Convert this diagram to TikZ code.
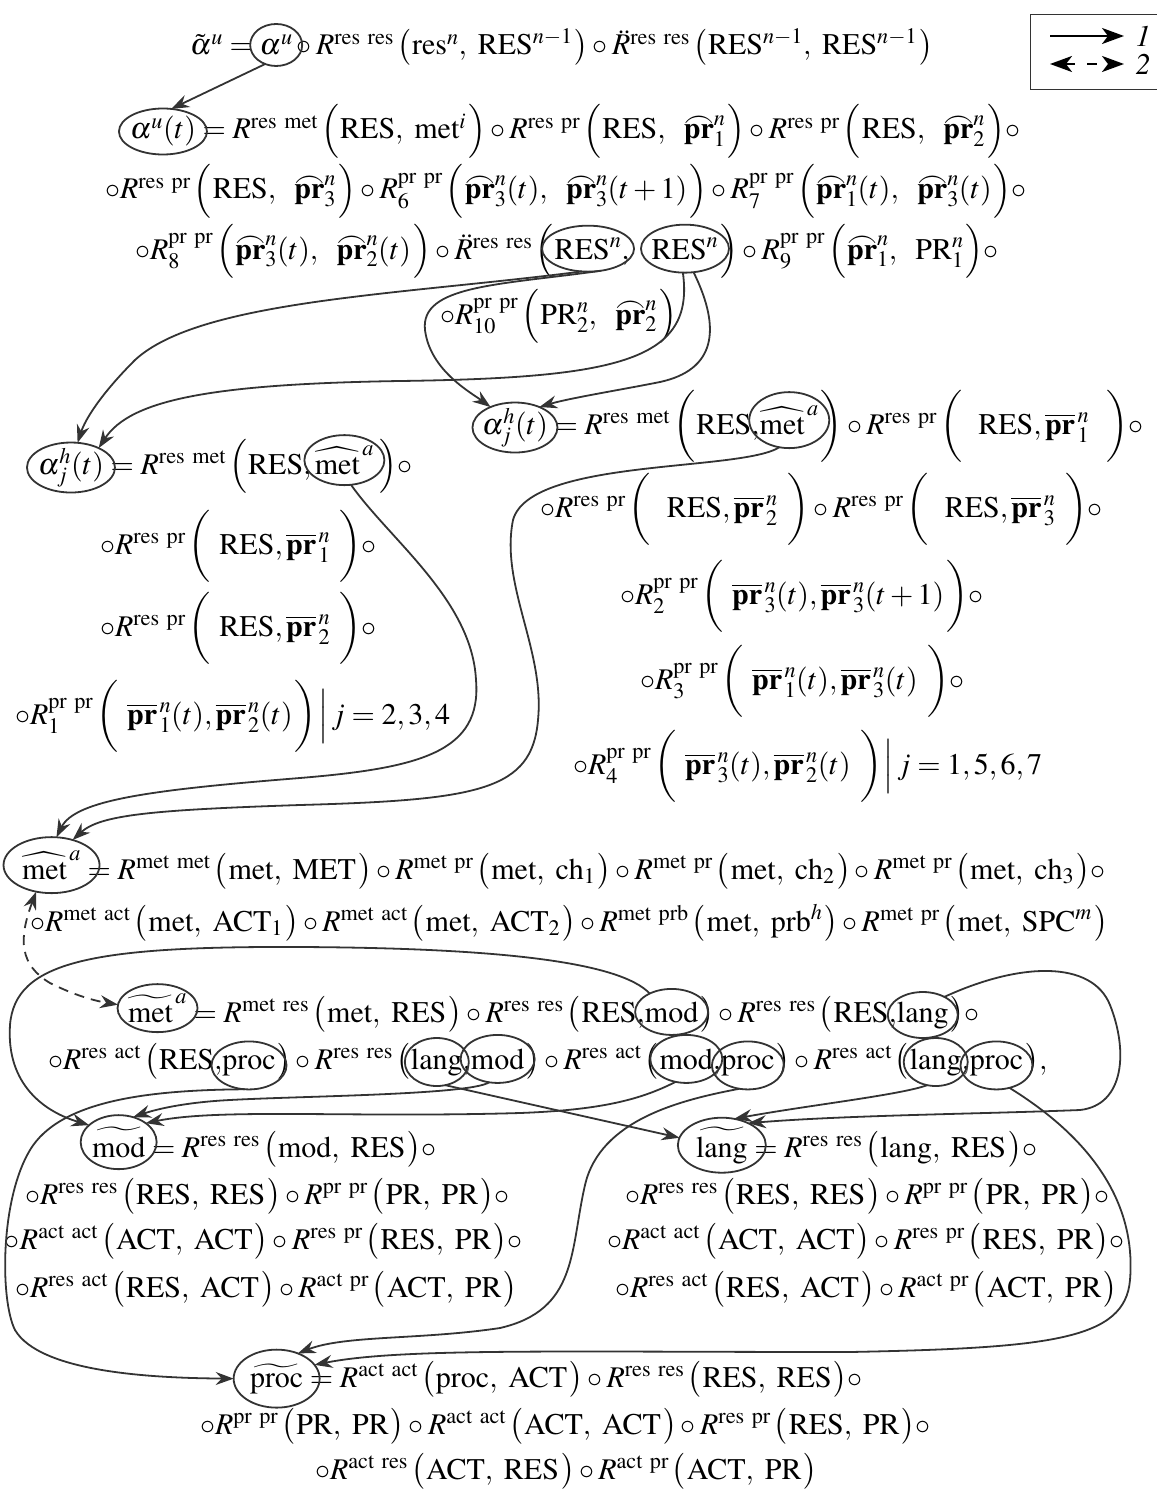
\documentclass[tikz,border=0pt]{standalone}
\usepackage{amsmath}
\usepackage{mathptmx}
\usepackage{fontspec}
\setmainfont{Liberation Serif}
\usetikzlibrary{shapes.geometric,arrows.meta}
\definecolor{ink}{HTML}{333333}
\newdimen\SA \SA=36pt
\newdimen\SB \SB=44pt
\newdimen\SC \SC=72pt
\newdimen\SD \SD=36pt
\newcommand\LP[1]{\mathopen{\kern3pt\left(\vcenter to #1{\vfil}\right.}}
\newcommand\RP[1]{\mathclose{\kern1pt\left.\vcenter to #1{\vfil}\right)}}
\newcommand\VB[1]{\mathord{\left.\vcenter to #1{\vfil}\right|}}
\newcommand\pA{\mathord{\vbox{\offinterlineskip\ialign{\hfil##\hfil\cr$\frown$\cr\noalign{\kern-3pt}$\mathbf{pr}$\cr}}}}
\newcommand\pO{\overline{\mathbf{pr}}}
\newcommand\rr[1]{\mathrm{#1}}
\tikzset{
  every node/.style={inner sep=0pt, outer sep=0pt, font=\fontsize{30}{36}\selectfont},
  tx/.style={anchor=base west},
  ell/.style={draw=ink, line width=1.8pt, ellipse, inner sep=0pt},
  conn/.style={draw=ink, line width=1.8pt, -{Stealth[length=18pt,width=13pt,inset=6pt]}},
  dconn/.style={draw=ink, line width=1.8pt, dash pattern=on 10pt off 7pt, {Stealth[length=18pt,width=13pt,inset=6pt]}-{Stealth[length=18pt,width=13pt,inset=6pt]}},
  lg/.style={draw=black, line width=2.2pt, -{Stealth[length=22pt,width=16pt,inset=6pt]}},
  lgd/.style={draw=black, line width=2.2pt, dash pattern=on 10pt off 12pt, {Stealth[length=22pt,width=16pt,inset=6pt]}-{Stealth[length=22pt,width=16pt,inset=6pt]}}
}
\begin{document}
\begin{tikzpicture}[x=1pt,y=-1pt]
\useasboundingbox (0,0) rectangle (1156,1490);
% legend
\draw[ink, line width=1pt] (1030,15) rectangle (1162,90);
\coordinate (g1s) at (1050,36); \coordinate (g1e) at (1124,36);
\coordinate (g2s) at (1050,64); \coordinate (g2e) at (1124,64);
\draw[lg] (g1s) -- (g1e);
\draw[lgd] (g2s) -- (g2e);
\node (g1) at (1143,36) {$\mathit{1}$};
\node (g2) at (1143,64) {$\mathit{2}$};
% line 1
\node[tx] (l1a) at (190,55) {$\tilde{\alpha}^u={}$};
\node[tx] (l1b) at (l1a.base east) {$\alpha^u$};
\node[tx] (l1c) at (l1b.base east) {${}\circ R^{\rr{res\ res}}\LP{\SA}\rr{res}^n,\ \rr{RES}^{n-1}\RP{\SA}\circ\ddot{R}^{\rr{res\ res}}\LP{\SA}\rr{RES}^{n-1},\ \rr{RES}^{n-1}\RP{\SA}$};
\node[ell, minimum width=52pt, minimum height=42pt] (Eau) at (l1b.center) {};
% line 2
\node[tx] (l2a) at (130,139) {$\alpha^u(t)$};
\node[tx] (l2b) at (l2a.base east) {${}={}R^{\rr{res\ met}}\LP{\SB}\rr{RES},\ \rr{met}^i\RP{\SB}\circ R^{\rr{res\ pr}}\LP{\SB}\rr{RES},\ \ \pA^n_1\RP{\SB}\circ R^{\rr{res\ pr}}\LP{\SB}\rr{RES},\ \ \pA^n_2\RP{\SB}\circ$};
\node[ell, minimum width=88pt, minimum height=46pt] (Ea2) at (l2a.center) {};
% line 3
\node[tx] (l3) at (105,199) {$\circ R^{\rr{res\ pr}}\LP{\SB}\rr{RES},\ \ \pA^n_3\RP{\SB}\circ R^{\rr{pr\ pr}}_6\LP{\SB}\pA^n_3(t),\ \ \pA^n_3(t+1)\RP{\SB}\circ R^{\rr{pr\ pr}}_7\LP{\SB}\pA^n_1(t),\ \ \pA^n_3(t)\RP{\SB}\circ$};
% line 4
\node[tx] (l4a) at (135,259) {$\circ R^{\rr{pr\ pr}}_8\LP{\SB}\pA^n_3(t),\ \ \pA^n_2(t)\RP{\SB}\circ\ddot{R}^{\rr{res\ res}}\LP{\SB}$};
\node[tx] (l4b) at (l4a.base east) {$\rr{RES}^n$};
\node[tx] (l4c) at (l4b.base east) {$,\hspace{22pt}$};
\node[tx] (l4d) at (l4c.base east) {$\rr{RES}^n$};
\node[tx] (l4e) at (l4d.base east) {$\RP{\SB}\circ R^{\rr{pr\ pr}}_9\LP{\SB}\pA^n_1,\ \ \rr{PR}^n_1\RP{\SB}\circ$};
\node[ell, minimum width=92pt, minimum height=46pt] (E1) at (l4b.center) {};
\node[ell, minimum width=88pt, minimum height=48pt] (E2) at (l4d.center) {};
% line 5
\node[tx] (l5) at (440,324) {$\circ R^{\rr{pr\ pr}}_{10}\LP{\SB}\rr{PR}^n_2,\ \ \pA^n_2\RP{\SB}$};
% right alpha block
\node[tx] (r1a) at (482,434) {$\alpha^h_j(t)$};
\node[tx] (r1b) at (r1a.base east) {${}={}R^{\rr{res\ met}}\LP{\SC}\rr{RES},$};
\node[tx] (r1c) at (r1b.base east) {$\widehat{\rr{met}}^{\,a}$};
\node[tx] (r1d) at (r1c.base east) {$\RP{\SC}\circ R^{\rr{res\ pr}}\LP{\SC}\ \ \rr{RES},\pO^{\,n}_{\,1}\ \ \RP{\SC}\circ$};
\node[ell, minimum width=85pt, minimum height=50pt] (Era) at (r1a.center) {};
\node[ell, minimum width=80pt, minimum height=56pt] (Emr) at (r1c.center) {};
\node[tx] (r2) at (540,517) {$\circ R^{\rr{res\ pr}}\LP{\SC}\ \ \rr{RES},\pO^{\,n}_{\,2}\ \RP{\SC}\circ R^{\rr{res\ pr}}\LP{\SC}\ \ \rr{RES},\pO^{\,n}_{\,3}\ \RP{\SC}\circ$};
\node[tx] (r3) at (620,604) {$\circ R^{\rr{pr\ pr}}_2\LP{\SC}\ \pO^{\,n}_{\,3}(t),\pO^{\,n}_{\,3}(t+1)\RP{\SC}\circ$};
\node[tx] (r4) at (640,689) {$\circ R^{\rr{pr\ pr}}_3\LP{\SC}\ \pO^{\,n}_{\,1}(t),\pO^{\,n}_{\,3}(t)\ \RP{\SC}\circ$};
\node[tx] (r5) at (573,774) {$\circ R^{\rr{pr\ pr}}_4\LP{\SC}\ \pO^{\,n}_{\,3}(t),\pO^{\,n}_{\,2}(t)\ \RP{\SC}\VB{54pt}\,j=1,5,6,7$};
% left alpha block
\node[tx] (q1a) at (38,474) {$\alpha^h_j(t)$};
\node[tx] (q1b) at (q1a.base east) {${}={}R^{\rr{res\ met}}\LP{\SB}\rr{RES},\,$};
\node[tx] (q1c) at (q1b.base east) {$\widehat{\rr{met}}^{\,a}$};
\node[tx] (q1d) at (q1c.base east) {$\,\RP{\SB}\circ$};
\node[ell, minimum width=88pt, minimum height=50pt] (Ela) at (q1a.center) {};
\node[ell, minimum width=80pt, minimum height=50pt] (Eml) at (q1c.center) {};
\node[tx] (q2) at (100,554) {$\circ R^{\rr{res\ pr}}\LP{\SC}\ \rr{RES},\pO^{\,n}_{\,1}\ \RP{\SC}\circ$};
\node[tx] (q3) at (100,636) {$\circ R^{\rr{res\ pr}}\LP{\SC}\ \rr{RES},\pO^{\,n}_{\,2}\ \RP{\SC}\circ$};
\node[tx] (q4) at (15,724) {$\circ R^{\rr{pr\ pr}}_1\LP{\SC}\ \pO^{\,n}_{\,1}(t),\pO^{\,n}_{\,2}(t)\RP{\SC}\VB{54pt}\,j=2,3,4$};
% met hat block
\node[tx] (m1a) at (22,879) {$\widehat{\rr{met}}^{\,a}$};
\node[tx] (m1b) at (m1a.base east) {${}={}R^{\rr{met\ met}}\LP{\SD}\rr{met},\ \rr{MET}\RP{\SD}\circ R^{\rr{met\ pr}}\LP{\SD}\rr{met},\ \rr{ch}_1\RP{\SD}\circ R^{\rr{met\ pr}}\LP{\SD}\rr{met},\ \rr{ch}_2\RP{\SD}\circ R^{\rr{met\ pr}}\LP{\SD}\rr{met},\ \rr{ch}_3\RP{\SD}\circ$};
\node[ell, minimum width=96pt, minimum height=56pt] (Eha) at (m1a.center) {};
\node[tx] (m2) at (30,931) {$\circ R^{\rr{met\ act}}\LP{\SD}\rr{met},\ \rr{ACT}_1\RP{\SD}\circ R^{\rr{met\ act}}\LP{\SD}\rr{met},\ \rr{ACT}_2\RP{\SD}\circ R^{\rr{met\ prb}}\LP{\SD}\rr{met},\ \rr{prb}^h\RP{\SD}\circ R^{\rr{met\ pr}}\LP{\SD}\rr{met},\ \rr{SPC}^m\RP{\SD}$};
% met tilde block
\node[tx] (n1a) at (128,1022) {$\widetilde{\rr{met}}^{\,a}$};
\node[tx] (n1b) at (n1a.base east) {${}={}R^{\rr{met\ res}}\LP{\SD}\rr{met},\ \rr{RES}\RP{\SD}\circ R^{\rr{res\ res}}\LP{\SD}\rr{RES},$};
\node[tx] (n1c) at (n1b.base east) {$\rr{mod}$};
\node[tx] (n1d) at (n1c.base east) {$\RP{\SD}\circ R^{\rr{res\ res}}\LP{\SD}\rr{RES},$};
\node[tx] (n1e) at (n1d.base east) {$\rr{lang}$};
\node[tx] (n1f) at (n1e.base east) {$\RP{\SD}\circ$};
\node[ell, minimum width=80pt, minimum height=48pt] (Emt) at (n1a.center) {};
\node[ell, minimum width=73pt, minimum height=46pt] (Em1) at (n1c.center) {};
\node[ell, minimum width=70pt, minimum height=46pt] (El1) at (n1e.center) {};
\node[tx] (o1) at (48,1069) {$\circ R^{\rr{res\ act}}\LP{\SD}\rr{RES},$};
\node[tx] (o2) at (o1.base east) {$\rr{proc}$};
\node[tx] (o3) at (o2.base east) {$\RP{\SD}\circ R^{\rr{res\ res}}\LP{\SD}$};
\node[tx] (o4) at (o3.base east) {$\rr{lang}$};
\node[tx] (o5) at (o4.base east) {$,$};
\node[tx] (o6) at (o5.base east) {$\rr{mod}$};
\node[tx] (o7) at (o6.base east) {$\RP{\SD}\circ R^{\rr{res\ act}}\LP{\SD}$};
\node[tx] (o8) at (o7.base east) {$\rr{mod}$};
\node[tx] (o9) at (o8.base east) {$,$};
\node[tx] (o10) at (o9.base east) {$\rr{proc}$};
\node[tx] (o11) at (o10.base east) {$\RP{\SD}\circ R^{\rr{res\ act}}\LP{\SD}$};
\node[tx] (o12) at (o11.base east) {$\rr{lang}$};
\node[tx] (o13) at (o12.base east) {$,$};
\node[tx] (o14) at (o13.base east) {$\rr{proc}$};
\node[tx] (o15) at (o14.base east) {$\RP{\SD},$};
\node[ell, minimum width=75pt, minimum height=48pt] (Ep1) at (o2.center) {};
\node[ell, minimum width=64pt, minimum height=48pt] (El2) at (o4.center) {};
\node[ell, minimum width=74pt, minimum height=48pt] (Em2) at (o6.center) {};
\node[ell, minimum width=72pt, minimum height=48pt] (Em3) at (o8.center) {};
\node[ell, minimum width=72pt, minimum height=48pt] (Ep2) at (o10.center) {};
\node[ell, minimum width=64pt, minimum height=48pt] (El3) at (o12.center) {};
\node[ell, minimum width=72pt, minimum height=48pt] (Ep3) at (o14.center) {};
% mod block
\node[tx] (p1a) at (92,1157) {$\widetilde{\rr{mod}}$};
\node[tx] (p1b) at (p1a.base east) {${}={}R^{\rr{res\ res}}\LP{\SD}\rr{mod},\ \rr{RES}\RP{\SD}\circ$};
\node[ell, minimum width=76pt, minimum height=54pt] (Emod) at (p1a.center) {};
\node[tx] (p2) at (25,1204) {$\circ R^{\rr{res\ res}}\LP{\SD}\rr{RES},\ \rr{RES}\RP{\SD}\circ R^{\rr{pr\ pr}}\LP{\SD}\rr{PR},\ \rr{PR}\RP{\SD}\circ$};
\node[tx] (p3) at (5,1249) {$\circ R^{\rr{act\ act}}\LP{\SD}\rr{ACT},\ \rr{ACT}\RP{\SD}\circ R^{\rr{res\ pr}}\LP{\SD}\rr{RES},\ \rr{PR}\RP{\SD}\circ$};
\node[tx] (p4) at (15,1297) {$\circ R^{\rr{res\ act}}\LP{\SD}\rr{RES},\ \rr{ACT}\RP{\SD}\circ R^{\rr{act\ pr}}\LP{\SD}\rr{ACT},\ \rr{PR}\RP{\SD}$};
% lang block
\node[tx] (s1a) at (696,1157) {$\widetilde{\rr{lang}}$};
\node[tx] (s1b) at (s1a.base east) {${}={}R^{\rr{res\ res}}\LP{\SD}\rr{lang},\ \rr{RES}\RP{\SD}\circ$};
\node[ell, minimum width=88pt, minimum height=55pt] (Sl) at (s1a.center) {};
\node[tx] (s2) at (625,1204) {$\circ R^{\rr{res\ res}}\LP{\SD}\rr{RES},\ \rr{RES}\RP{\SD}\circ R^{\rr{pr\ pr}}\LP{\SD}\rr{PR},\ \rr{PR}\RP{\SD}\circ$};
\node[tx] (s3) at (607,1249) {$\circ R^{\rr{act\ act}}\LP{\SD}\rr{ACT},\ \rr{ACT}\RP{\SD}\circ R^{\rr{res\ pr}}\LP{\SD}\rr{RES},\ \rr{PR}\RP{\SD}\circ$};
\node[tx] (s4) at (615,1297) {$\circ R^{\rr{res\ act}}\LP{\SD}\rr{RES},\ \rr{ACT}\RP{\SD}\circ R^{\rr{act\ pr}}\LP{\SD}\rr{ACT},\ \rr{PR}\RP{\SD}$};
% proc block
\node[tx] (t1a) at (250,1387) {$\widetilde{\rr{proc}}$};
\node[tx] (t1b) at (t1a.base east) {${}={}R^{\rr{act\ act}}\LP{\SD}\rr{proc},\ \rr{ACT}\RP{\SD}\circ R^{\rr{res\ res}}\LP{\SD}\rr{RES},\ \rr{RES}\RP{\SD}\circ$};
\node[ell, minimum width=86pt, minimum height=58pt] (Sp) at (t1a.center) {};
\node[tx] (t2) at (200,1434) {$\circ R^{\rr{pr\ pr}}\LP{\SD}\rr{PR},\ \rr{PR}\RP{\SD}\circ R^{\rr{act\ act}}\LP{\SD}\rr{ACT},\ \rr{ACT}\RP{\SD}\circ R^{\rr{res\ pr}}\LP{\SD}\rr{RES},\ \rr{PR}\RP{\SD}\circ$};
\node[tx] (t3) at (315,1479) {$\circ R^{\rr{act\ res}}\LP{\SD}\rr{ACT},\ \rr{RES}\RP{\SD}\circ R^{\rr{act\ pr}}\LP{\SD}\rr{ACT},\ \rr{PR}\RP{\SD}$};
% connectors upper
\draw[conn] (Eau.240) -- (Ea2.70);
\draw[conn] (E1.255) .. controls (400,295) and (200,300) .. (135,360) .. controls (100,395) and (85,420) .. (Ela.75);
\draw[conn] (E2.265) .. controls (695,360) and (620,378) .. (400,381) .. controls (210,384) and (130,400) .. (Ela.35);
\draw[conn] (E1.300) .. controls (500,285) and (420,285) .. (425,330) .. controls (430,370) and (470,392) .. (Era.140);
\draw[conn] (E2.290) .. controls (722,330) and (715,370) .. (660,382) .. controls (620,390) and (570,398) .. (Era.40);
\draw[conn] (Emr.250) .. controls (740,472) and (530,458) .. (513,520) .. controls (500,585) and (545,650) .. (538,720) .. controls (532,790) and (480,800) .. (300,805) .. controls (150,810) and (100,815) .. (Eha.50);
\draw[conn] (Eml.285) .. controls (390,540) and (472,600) .. (476,680) .. controls (482,752) and (420,768) .. (300,778) .. controls (150,790) and (75,800) .. (Eha.80);
\draw[dconn] (Eha.240) .. controls (18,940) and (20,965) .. (50,983) .. controls (70,993) and (90,1000) .. (Emt.175);
% connectors lower
\draw[conn] (Em1.140) .. controls (620,962) and (500,948) .. (300,947) .. controls (90,946) and (15,962) .. (10,1025) .. controls (6,1085) and (45,1112) .. (Emod.150);
\draw[conn] (Ep1.260) .. controls (150,1090) and (60,1100) .. (30,1150) .. controls (0,1200) and (0,1300) .. (15,1330) .. controls (40,1372) and (150,1378) .. (Sp.180);
\draw[conn] (El2.290) -- (Sl.170);
\draw[conn] (Em2.250) .. controls (470,1095) and (300,1096) .. (230,1100) .. controls (190,1102) and (160,1108) .. (Emod.60);
\draw[conn] (Em3.245) .. controls (640,1100) and (600,1110) .. (520,1113) .. controls (350,1118) and (220,1108) .. (Emod.35);
\draw[conn] (Ep2.250) .. controls (680,1100) and (600,1120) .. (585,1185) .. controls (570,1250) and (578,1310) .. (500,1328) .. controls (420,1340) and (345,1335) .. (Sp.50);
\draw[conn] (Ep3.300) .. controls (1110,1150) and (1135,1220) .. (1130,1280) .. controls (1125,1340) and (1050,1348) .. (850,1352) .. controls (550,1352) and (400,1348) .. (Sp.20);
\draw[conn] (El3.250) .. controls (900,1095) and (810,1105) .. (Sl.65);
\draw[conn] (El1.40) .. controls (1020,962) and (1092,960) .. (1110,1005) .. controls (1128,1050) and (1125,1105) .. (1080,1110) .. controls (980,1114) and (850,1115) .. (Sl.40);
\end{tikzpicture}
\end{document}
